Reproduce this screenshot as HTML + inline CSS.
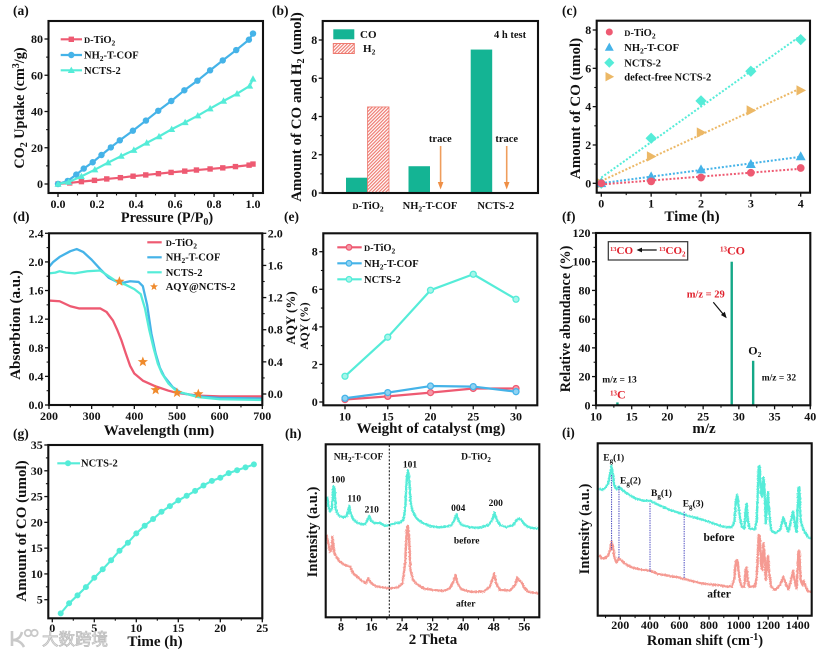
<!DOCTYPE html>
<html lang="en">
<head>
<meta charset="utf-8">
<title>Photocatalysis multi-panel figure</title>
<style>
html,body{margin:0;padding:0;background:#fff;}
svg{display:block;font-family:"Liberation Serif","Noto Serif CJK SC",serif;font-weight:bold;fill:#111;filter:blur(0.3px);}
.t15{font-size:15px;}
.leg{font-size:10.5px;}
.pl{font-size:13.5px;}
.red{fill:#e0202c;}
</style>
</head>
<body>
<svg id="fig" xmlns="http://www.w3.org/2000/svg" width="831" height="654" viewBox="0 0 831 654">
<defs>
<pattern id="hatch" patternUnits="userSpaceOnUse" width="2.4" height="2.4" patternTransform="rotate(-45)">
<rect width="2.4" height="2.4" fill="#fff"/><rect width="2.4" height="1.2" fill="#ee7a70"/>
</pattern>
<filter id="fuzz" x="-5%" y="-10%" width="110%" height="120%">
<feTurbulence type="fractalNoise" baseFrequency="0.8" numOctaves="2" seed="3"/>
<feDisplacementMap in="SourceGraphic" scale="2.4" xChannelSelector="R" yChannelSelector="G"/>
</filter>
</defs>
<rect width="831" height="654" fill="#fff"/>

<g class="pl">
<text x="13" y="15">(a)</text>
<text x="272" y="15">(b)</text>
<text x="562" y="15">(c)</text>
<text x="13" y="221">(d)</text>
<text x="284" y="221">(e)</text>
<text x="562" y="221">(f)</text>
<text x="13" y="438">(g)</text>
<text x="285" y="438">(h)</text>
<text x="562" y="437">(i)</text>
</g>

<g class="t15" text-anchor="middle">
<text transform="translate(24,108) rotate(-90)" font-size="14.2" style="font-size:14.2px">CO<tspan dy="3" font-size="10">2</tspan><tspan dy="-3"> Uptake (cm</tspan><tspan dy="-5" font-size="10">3</tspan><tspan dy="5">/g)</tspan></text>
<text x="167" y="222" style="font-size:14.3px">Pressure (P/P<tspan dy="3" font-size="10">0</tspan><tspan dy="-3">)</tspan></text>
<text transform="translate(301,107) rotate(-90)">Amount of CO and H<tspan dy="3" font-size="10">2</tspan><tspan dy="-3"> (umol)</tspan></text>
<text transform="translate(580,108.5) rotate(-90)">Amount of CO (umol)</text>
<text x="692" y="221">Time (h)</text>
<text transform="translate(20,325) rotate(-90)">Absorbtion (a.u.)</text>
<text x="159" y="435">Wavelength (nm)</text>
<text transform="translate(295,318) rotate(-90)" style="font-size:13px">AQY (%)</text>
<text transform="translate(308,326) rotate(-90)" style="font-size:11.5px">AQY (%)</text>
<text x="431" y="433">Weight of catalyst (mg)</text>
<text transform="translate(570,319) rotate(-90)" style="font-size:14.2px">Relative abundance (%)</text>
<text x="704" y="433">m/z</text>
<text transform="translate(26,531) rotate(-90)">Amount of CO (umol)</text>
<text x="155" y="646">Time (h)</text>
<text transform="translate(317,532) rotate(-90)" style="font-size:14.5px">Intensity (a.u.)</text>
<text x="433" y="644">2 Theta</text>
<text transform="translate(589,529) rotate(-90)" style="font-size:14.5px">Intensity (a.u.)</text>
<text x="705" y="645" style="font-size:14.5px">Roman shift (cm<tspan dy="-5" font-size="10">-1</tspan><tspan dy="5">)</tspan></text>
</g>

<g id="charts"></g>

<g class="leg">
<text x="84" y="43"><tspan font-size="8.5">D</tspan>-TiO<tspan dy="2.5" font-size="7.5">2</tspan></text>
<text x="84" y="58.5">NH<tspan dy="2.5" font-size="7.5">2</tspan><tspan dy="-2.5">-T-COF</tspan></text>
<text x="84" y="74">NCTS-2</text>
</g>

<g>
<rect x="333.3" y="29.3" width="21" height="10" fill="#14b494"/>
<rect x="333.3" y="43.5" width="21" height="10" fill="url(#hatch)" stroke="#ee7a70"/>
<text x="360" y="38" font-size="11">CO</text>
<text x="363" y="52" font-size="11">H<tspan dy="2.5" font-size="7.5">2</tspan></text>
<text x="494" y="38" class="leg">4 h test</text>
<text x="440.3" y="142" class="leg" text-anchor="middle">trace</text>
<text x="506.7" y="142" class="leg" text-anchor="middle">trace</text>
<line x1="440.6" y1="146" x2="440.6" y2="183" stroke="#ef9d5c" stroke-width="1.6"/>
<polygon points="437.8,182 443.4,182 440.6,189.5" fill="#ef8f45"/>
<line x1="506.7" y1="146" x2="506.7" y2="183" stroke="#ef9d5c" stroke-width="1.6"/>
<polygon points="503.9,182 509.5,182 506.7,189.5" fill="#ef8f45"/>
<g text-anchor="middle" class="leg">
<text x="368" y="209"><tspan font-size="8.5">D</tspan>-TiO<tspan dy="2.5" font-size="7.5">2</tspan></text>
<text x="430" y="209">NH<tspan dy="2.5" font-size="7.5">2</tspan><tspan dy="-2.5">-T-COF</tspan></text>
<text x="495.7" y="209">NCTS-2</text>
</g>
</g>

<g class="leg">
<text x="624.3" y="36"><tspan font-size="8.5">D</tspan>-TiO<tspan dy="2.5" font-size="7.5">2</tspan></text>
<text x="624.3" y="51">NH<tspan dy="2.5" font-size="7.5">2</tspan><tspan dy="-2.5">-T-COF</tspan></text>
<text x="624.3" y="66.5">NCTS-2</text>
<text x="624.3" y="80.5">defect-free NCTS-2</text>
</g>

<g class="leg">
<line x1="147.3" x2="161.7" y1="242.3" y2="242.3" stroke="#ee5a72" stroke-width="2.2"/>
<line x1="147.3" x2="161.7" y1="257.3" y2="257.3" stroke="#45b3e8" stroke-width="2.2"/>
<line x1="147.3" x2="161.7" y1="272.3" y2="272.3" stroke="#55ecd8" stroke-width="2.2"/>
<text x="165.7" y="246"><tspan font-size="8.5">D</tspan>-TiO<tspan dy="2.5" font-size="7.5">2</tspan></text>
<text x="165.7" y="260.5">NH<tspan dy="2.5" font-size="7.5">2</tspan><tspan dy="-2.5">-T-COF</tspan></text>
<text x="165.7" y="276">NCTS-2</text>
<text x="165.7" y="290">AQY@NCTS-2</text>
</g>

<g class="leg">
<text x="364" y="251"><tspan font-size="8.5">D</tspan>-TiO<tspan dy="2.5" font-size="7.5">2</tspan></text>
<text x="364" y="267">NH<tspan dy="2.5" font-size="7.5">2</tspan><tspan dy="-2.5">-T-COF</tspan></text>
<text x="364" y="283">NCTS-2</text>
</g>

<g>
<rect x="608.3" y="241.7" width="79.4" height="18.3" fill="none" stroke="#333" stroke-width="1.2"/>
<text x="610" y="254" font-size="11" class="red"><tspan dy="-3" font-size="6.5">13</tspan><tspan dy="3">CO</tspan></text>
<line x1="656.7" y1="250" x2="640" y2="250" stroke="#111" stroke-width="1.2"/>
<polygon points="636.5,250 642,247.6 642,252.4" fill="#111"/>
<text x="659" y="254" font-size="11" class="red"><tspan dy="-3" font-size="6.5">13</tspan><tspan dy="3">CO</tspan><tspan dy="2.5" font-size="7">2</tspan></text>
<text x="720" y="254.3" font-size="12" class="red"><tspan dy="-3" font-size="7">13</tspan><tspan dy="3">CO</tspan></text>
<text x="686.7" y="297.3" font-size="10.5" class="red">m/z = 29</text>
<line x1="713.3" y1="302.3" x2="724.5" y2="315.7" stroke="#111" stroke-width="1.2"/>
<polygon points="726.7,318.3 720.9,315 724.8,311.8" fill="#111"/>
<text x="748.3" y="354.3" font-size="12">O<tspan dy="2.5" font-size="7.5">2</tspan></text>
<text x="761.7" y="380.7" font-size="9.5">m/z = 32</text>
<text x="602.3" y="382.7" font-size="9.5">m/z = 13</text>
<text x="610" y="398.3" font-size="12" class="red"><tspan dy="-3" font-size="7">13</tspan><tspan dy="3">C</tspan></text>
</g>

<g>
<text x="81" y="466.5" class="leg">NCTS-2</text>
</g>

<g font-size="9.5" text-anchor="middle">
<text x="358.5" y="459.3">NH<tspan dy="2.5" font-size="7">2</tspan><tspan dy="-2.5">-T-COF</tspan></text>
<text x="476" y="459.3">D-TiO<tspan dy="2.5" font-size="7">2</tspan></text>
<line x1="389.3" y1="445" x2="389.3" y2="617" stroke="#111" stroke-width="1" stroke-dasharray="2,1.6"/>
<text x="410" y="467.3">101</text>
<text x="338" y="482.3">100</text>
<text x="354.3" y="501.7">110</text>
<text x="371.7" y="512.7">210</text>
<text x="458.3" y="511">004</text>
<text x="495.7" y="506">200</text>
<text x="466.7" y="543.3">before</text>
<text x="465.7" y="606.7">after</text>
</g>

<g>
<g font-size="9.5">
<text x="603.3" y="460.7">E<tspan dy="2.5" font-size="7">g</tspan><tspan dy="-2.5">(1)</tspan></text>
<text x="620" y="483.3">E<tspan dy="2.5" font-size="7">g</tspan><tspan dy="-2.5">(2)</tspan></text>
<text x="651" y="496">B<tspan dy="2.5" font-size="7">g</tspan><tspan dy="-2.5">(1)</tspan></text>
<text x="682.7" y="506.7">E<tspan dy="2.5" font-size="7">g</tspan><tspan dy="-2.5">(3)</tspan></text>
</g>
<text x="719" y="541" font-size="11.5" text-anchor="middle">before</text>
<text x="719" y="597.7" font-size="11.5" text-anchor="middle">after</text>
</g>

<g>
<path d="M12 631 v15 M12 640 c7 0 9 -4 10 -8 M12 640 c7 0 10 3 12 7" fill="none" stroke="#c9c9c9" stroke-width="2.6"/>
<circle cx="28" cy="633" r="3.2" fill="none" stroke="#c9c9c9" stroke-width="1.8"/>
<circle cx="34.5" cy="633" r="3.2" fill="none" stroke="#c9c9c9" stroke-width="1.8"/>
<text x="42" y="645" font-size="16.5" font-family="'Noto Sans CJK SC',sans-serif" font-weight="400" style="fill:#eee;stroke:#bdbdbd;stroke-width:.8">大数跨境</text>
</g>
</svg>

<script>
// ---------- Panel (a) ----------
const aTiO2P = [0,.06,.12,.187,.25,.32,.385,.45,.515,.58,.65,.71,.78,.845,.91,.98,1];
const aTiO2V = [0,.6,1.3,2,2.8,3.5,4.3,5,5.7,6.4,7.1,7.7,8.3,8.9,9.6,10.4,11];
const aCofP = [0,.05,.094,.132,.178,.223,.271,.317,.384,.451,.514,.581,.648,.715,.78,.845,.914,.979,1];
const aCofV = [0,1.7,5.2,8.5,12,16,20.2,24.1,29.4,35,40.4,45.8,51.7,57,62.7,68.2,73.9,79.6,83];
const aNctsP = [0,.055,.12,.189,.257,.324,.389,.455,.518,.583,.652,.717,.78,.849,.918,.983,1];
const aNctsV = [0,1.1,4.2,7.9,11.8,15.4,18.7,22.7,26.2,30.2,34,37.7,41.6,45.8,49.8,54.1,58];
const aXTicks = [0,.2,.4,.6,.8,1];
const aXLabels = ['0.0','0.2','0.4','0.6','0.8','1.0'];
const aXMinor = [.1,.3,.5,.7,.9];
const aYTicks = [0,20,40,60,80];
const aYMinor = [10,30,50,70];

// ---------- Panel (b) ----------
const bCO = [0.8,1.4,7.5];
const bH2 = [4.5,null,null];
const bYTicks = [0,2,4,6,8];
const bYMinor = [1,3,5,7];

// ---------- Panel (c) ----------
const cTime = [0,1,2,3,4];
const cTiO2 = [0,.1,.3,.55,.8];
const cCof = [0,.35,.72,1.0,1.4];
const cNcts = [0,2.35,4.3,5.85,7.5];
const cDefectFree = [0,1.4,2.65,3.8,4.85];
const cXTicks = [0,1,2,3,4];
const cXMinor = [.5,1.5,2.5,3.5];
const cYTicks = [0,2,4,6,8];
const cYMinor = [1,3,5,7];

// ---------- Panel (d) ----------
const dTiO2W = [200,225,250,270,300,320,335,350,360,370,380,390,400,420,450,480,500,550,600,700];
const dTiO2A = [1.46,1.45,1.38,1.35,1.35,1.35,1.3,1.18,1.05,.9,.72,.55,.44,.34,.26,.2,.17,.13,.12,.12];
const dCofW = [200,210,225,250,265,280,300,320,340,360,375,390,410,420,430,440,450,460,470,490,510,550,600,700];
const dCofA = [1.93,2.0,2.07,2.15,2.18,2.14,2.03,1.9,1.78,1.72,1.71,1.73,1.72,1.66,1.4,1.0,.72,.52,.4,.25,.17,.12,.1,.09];
const dNctsW = [200,215,225,240,260,290,320,340,360,380,400,415,425,435,445,455,465,480,500,550,600,700];
const dNctsA = [1.84,1.85,1.87,1.85,1.84,1.87,1.88,1.8,1.72,1.68,1.62,1.55,1.35,1.05,.8,.58,.44,.3,.19,.11,.08,.07];
const dAqyW = [365,420,450,500,550];
const dAqyV = [1.4,.4,.05,.015,0];
const dXTicks = [200,300,400,500,600,700];
const dXMinor = [250,350,450,550,650];
const dYTicks = [0,.4,.8,1.2,1.6,2,2.4];
const dYLabels = ['0.0','0.4','0.8','1.2','1.6','2.0','2.4'];
const dYMinor = [.2,.6,1,1.4,1.8,2.2];
const dRTicks = [0,.4,.8,1.2,1.6,2];
const dRLabels = ['0.0','0.4','0.8','1.2','1.6','2.0'];
const dRMinor = [.2,.6,1,1.4,1.8];

// ---------- Panel (e) ----------
const eWeight = [10,15,20,25,30];
const eTiO2 = [.13,.3,.5,.72,.72];
const eCof = [.2,.5,.85,.82,.55];
const eNcts = [1.37,3.45,5.95,6.8,5.47];
const eXTicks = [10,15,20,25,30];
const eXMinor = [12.5,17.5,22.5,27.5];
const eYTicks = [0,2,4,6,8];
const eYMinor = [1,3,5,7];

// ---------- Panel (f) ----------
const fMz = [13,29,32];
const fAbundance = [2,100,31];
const fXTicks = [10,15,20,25,30,35,40];
const fXMinor = [12.5,17.5,22.5,27.5,32.5,37.5];
const fYTicks = [0,20,40,60,80,100,120];
const fYMinor = [10,30,50,70,90,110];

// ---------- Panel (g) ----------
const gTime = [1,2,3,4,5,6,7,8,9,10,11,12,13,14,15,16,17,18,19,20,21,22,23,24];
const gCO = [2.35,4.3,5.85,7.45,9.25,10.9,12.65,14.5,16.05,17.85,19.35,20.65,22.05,23.15,24.25,25.15,26.1,27.15,28.05,28.65,29.55,30.1,30.65,31.25];
const gXTicks = [0,5,10,15,20,25];
const gXMinor = [2.5,7.5,12.5,17.5,22.5];
const gYTicks = [5,10,15,20,25,30,35];
const gYMinor = [7.5,12.5,17.5,22.5,27.5,32.5];

// ---------- Panel (h) ----------
const hBeforeTheta = [4.4,4.7,5.1,5.6,6.0,6.3,6.6,7.0,7.7,8.6,9.5,9.9,10.2,10.5,11.2,12.5,14.3,14.9,15.4,15.9,16.9,18.2,19.5,20.8,22.1,23.4,24.3,24.8,25.2,25.5,25.9,26.2,26.8,27.4,28.2,29.6,31.3,33.5,35.7,37.0,37.7,38.2,38.7,39.6,41.8,44.4,46.6,47.6,48.2,48.8,49.6,51.4,53.1,54.0,54.7,55.3,56.2,57.5,59.7];
const hBeforeI = [362,332,317,327,392,387,327,312,304,300,304,317,334,312,294,282,279,290,304,290,282,284,274,277,282,284,292,322,412,440,412,347,317,304,292,282,274,270,272,277,292,309,292,277,270,269,277,292,314,292,277,270,277,292,297,290,277,269,266];
const hAfterTheta = [4.2,4.7,5.1,5.6,5.8,6.2,6.7,7.7,9.0,10.4,11.2,13,14.5,15.2,15.8,16.9,18.6,20.8,23,24.1,24.8,25.2,25.5,25.8,26.2,26.8,27.8,29.6,32.2,34.8,36.5,37.4,38,38.5,39.6,42.2,45.3,47,47.7,48.1,48.6,49.6,52.2,53.6,54.2,54.7,55.2,55.9,57,59.7];
const hAfterI = [247,222,197,207,242,197,182,167,157,152,132,114,102,117,104,94,90,87,90,102,162,262,274,242,142,114,100,87,82,79,87,107,127,102,84,76,77,92,117,132,102,82,80,97,120,110,107,90,77,72];
const hXTicks = [8,16,24,32,40,48,56];
const hXMinor = [12,20,28,36,44,52];

// ---------- Panel (i) ----------
const iShift = [58,74,96,119,132,141,150,159,175,191,209,243,299,356,401,457,525,593,660,728,796,863,908,954,972,981,990,999,1010,1021,1039,1048,1055,1062,1073,1111,1123,1136,1143,1152,1159,1168,1175,1184,1190,1199,1208,1220,1247,1281,1303,1319,1337,1355,1369,1382,1393,1405,1411,1420,1432,1441,1454,1472,1490];
const iBefore = [382,377,382,397,427,449,427,392,379,387,379,367,352,345,345,332,319,309,299,292,282,272,266,265,282,342,362,332,295,267,262,317,335,287,262,259,287,447,449,367,357,415,387,277,317,369,307,257,247,257,295,272,252,287,312,272,252,382,385,287,267,257,247,235,232];
const iAfter = [182,172,172,182,197,222,207,177,159,172,165,152,142,137,135,125,120,115,107,99,94,92,88,87,112,162,167,137,102,87,87,137,145,107,87,87,117,242,239,157,137,217,187,107,147,179,127,87,77,92,117,97,79,107,135,97,82,192,195,107,92,105,87,72,72];
const iModeShift = [141,191,401,632];
const iModeTop = [422,387,337,312];
const iModeBottom = [197,172,132,112];
const iXTicks = [200,400,600,800,1000,1200,1400];
const iXMinor = [100,300,500,700,900,1100,1300];

// ---------- Helpers ----------
const NS = 'http://www.w3.org/2000/svg';
const root = document.getElementById('charts');
const RED = '#ee5a72', BLUE = '#45b3e8', CYAN = '#55ecd8', TEAL = '#14b494', ORANGE = '#ef8a2c', AMBER = '#ecb866';

function add(parent, tag, attrs, txt) {
  const e = document.createElementNS(NS, tag);
  for (const k in attrs) e.setAttribute(k, attrs[k]);
  if (txt !== undefined) e.textContent = txt;
  parent.appendChild(e);
  return e;
}
function linear(d0, r0, d1, r1) {
  return v => r0 + (v - d0) * (r1 - r0) / (d1 - d0);
}
function panel(name) {
  const g = add(root, 'g', {});
  
  
  return g;
}
function frame(g, x0, y0, x1, y1) {
  const r = add(g, 'rect', {x:x0, y:y0, width:x1-x0, height:y1-y0, fill:'none', stroke:'#111', 'stroke-width':2.1});
  
  
}
function xAxis(g, sx, yBase, ticks, labels, minor, labelDy) {
  ticks.forEach((t, i) => {
    const l = add(g, 'line', {x1:sx(t), x2:sx(t), y1:yBase, y2:yBase+4, stroke:'#111', 'stroke-width':1.3});
    
    
    const s = add(g, 'text', {x:sx(t), y:yBase+labelDy, 'text-anchor':'middle', 'font-size':12}, labels ? labels[i] : String(t));
    
    
  });
  (minor || []).forEach(t => {
    const l = add(g, 'line', {x1:sx(t), x2:sx(t), y1:yBase, y2:yBase+2.4, stroke:'#111', 'stroke-width':1.1});
    
    
  });
}
function yAxis(g, sy, xBase, ticks, labels, minor, side) {
  const dir = side === 'right' ? 1 : -1;
  ticks.forEach((t, i) => {
    const l = add(g, 'line', {x1:xBase, x2:xBase+dir*4, y1:sy(t), y2:sy(t), stroke:'#111', 'stroke-width':1.3});
    
    
    const s = add(g, 'text', {x:xBase+dir*5.5, y:sy(t)+4, 'text-anchor':side === 'right' ? 'start' : 'end', 'font-size':12}, labels ? labels[i] : String(t));
    
    
  });
  (minor || []).forEach(t => {
    const l = add(g, 'line', {x1:xBase, x2:xBase+dir*2.4, y1:sy(t), y2:sy(t), stroke:'#111', 'stroke-width':1.1});
    
    
  });
}
function pathD(xs, ys, sx, sy) {
  return xs.map((x, i) => (i ? 'L' : 'M') + sx(x).toFixed(2) + ' ' + sy(ys[i]).toFixed(2)).join(' ');
}
function linePath(g, xs, ys, sx, sy, color, w) {
  return add(g, 'path', {d:pathD(xs, ys, sx, sy), fill:'none', stroke:color, 'stroke-width':w, 'stroke-linejoin':'round'});
}
function marker(g, shape, x, y, s, fill, stroke) {
  if (shape === 'circle') return add(g, 'circle', {cx:x, cy:y, r:s, fill:fill, stroke:stroke || 'none', 'stroke-width':1.3});
  let pts;
  if (shape === 'square') pts = [[-s,-s],[s,-s],[s,s],[-s,s]];
  if (shape === 'triangle') pts = [[0,-s*1.15],[s*1.1,s*.85],[-s*1.1,s*.85]];
  if (shape === 'diamond') pts = [[0,-s*1.25],[s*1.25,0],[0,s*1.25],[-s*1.25,0]];
  if (shape === 'right') pts = [[-s*.9,-s*1.1],[s*1.15,0],[-s*.9,s*1.1]];
  if (shape === 'star') {
    pts = [];
    for (let k = 0; k < 10; k++) {
      const r = k % 2 ? s * .42 : s;
      const a = -Math.PI / 2 + k * Math.PI / 5;
      pts.push([r * Math.cos(a), r * Math.sin(a)]);
    }
  }
  return add(g, 'polygon', {points:pts.map(p => (x+p[0]).toFixed(2)+','+(y+p[1]).toFixed(2)).join(' '), fill:fill});
}
function fit(xs, ys) {
  const n = xs.length;
  const mx = xs.reduce((a, b) => a + b, 0) / n;
  const my = ys.reduce((a, b) => a + b, 0) / n;
  let num = 0, den = 0;
  xs.forEach((x, i) => { num += (x - mx) * (ys[i] - my); den += (x - mx) * (x - mx); });
  const m = num / den;
  return x => my + m * (x - mx);
}

// ---------- Draw (a) ----------
(function () {
  const g = panel('panel-a-co2-uptake');
  const sx = linear(0, 58, 1, 253);
  const sy = linear(0, 184, 80, 39);
  const series = [
    {n:'dtio2', xs:aTiO2P, ys:aTiO2V, c:RED, m:'square', s:2.7},
    {n:'nh2-t-cof', xs:aCofP, ys:aCofV, c:BLUE, m:'circle', s:3.2},
    {n:'ncts-2', xs:aNctsP, ys:aNctsV, c:CYAN, m:'triangle', s:3.2}
  ];
  series.forEach(o => {
    const p = linePath(g, o.xs, o.ys, sx, sy, o.c, 2.2);
    
    
    o.xs.forEach((x, i) => {
      const m = marker(g, o.m, sx(x), sy(o.ys[i]), o.s, o.c);
      
      
    });
  });
  frame(g, 48.5, 21, 263, 193);
  xAxis(g, sx, 193, aXTicks, aXLabels, aXMinor, 15);
  yAxis(g, sy, 48.5, aYTicks, null, aYMinor);
  const legY = [39.3, 55, 70.3];
  series.forEach((o, i) => {
    const l = add(g, 'line', {x1:60.7, x2:82, y1:legY[i], y2:legY[i], stroke:o.c, 'stroke-width':2.2});
    
    
    const m = marker(g, o.m, 71.3, legY[i], o.s, o.c);
    
    
  });
})();

// ---------- Draw (b) ----------
(function () {
  const g = panel('panel-b-co-h2-bars');
  const sy = linear(0, 193, 8, 40);
  const barLeft = [346, 408.5, 470.7];
  bCO.forEach((v, i) => {
    const r = add(g, 'rect', {x:barLeft[i], y:sy(v), width:21.5, height:sy(0)-sy(v), fill:TEAL});
    
    
  });
  bH2.forEach((v, i) => {
    if (v === null) return;
    const r = add(g, 'rect', {x:barLeft[i]+21.5, y:sy(v), width:21.5, height:sy(0)-sy(v), fill:'url(#hatch)', stroke:'#ee7a70', 'stroke-width':.8});
    
    
  });
  frame(g, 322.7, 21, 538, 193);
  yAxis(g, sy, 322.7, bYTicks, null, bYMinor);
})();

// ---------- Draw (c) ----------
(function () {
  const g = panel('panel-c-co-vs-time');
  const sx = linear(0, 601.3, 4, 800.7);
  const sy = linear(0, 183.3, 8, 30);
  const series = [
    {n:'defect-free', ys:cDefectFree, c:AMBER, m:'right', s:4.7, ly:76.7},
    {n:'ncts-2', ys:cNcts, c:CYAN, m:'diamond', s:4.5, ly:62.7},
    {n:'nh2-t-cof', ys:cCof, c:BLUE, m:'triangle', s:4.5, ly:47.3},
    {n:'dtio2', ys:cTiO2, c:RED, m:'circle', s:3.9, ly:32}
  ];
  series.forEach(o => {
    const f = fit(cTime, o.ys);
    const l = add(g, 'line', {x1:sx(0), x2:sx(4), y1:sy(f(0)), y2:sy(f(4)), stroke:o.c, 'stroke-width':2, 'stroke-dasharray':'2,1.8'});
    
    
    cTime.forEach((t, i) => {
      const m = marker(g, o.m, sx(t), sy(o.ys[i]), o.s, o.c);
      
      
    });
    const lm = marker(g, o.m, 609.3, o.ly, o.s * .9, o.c);
    
    
  });
  frame(g, 596.7, 20.7, 810, 192.7);
  xAxis(g, sx, 192.7, cXTicks, null, cXMinor, 15);
  yAxis(g, sy, 596.7, cYTicks, null, cYMinor);
})();

// ---------- Draw (d) ----------
(function () {
  const g = panel('panel-d-absorption');
  const sx = linear(200, 49, 700, 262.3);
  const sy = linear(0, 405, 2.4, 233.3);
  const sr = linear(0, 394, 2, 233.3);
  const sets = [
    {n:'dtio2', xs:dTiO2W, ys:dTiO2A, c:RED},
    {n:'nh2-t-cof', xs:dCofW, ys:dCofA, c:BLUE},
    {n:'ncts-2', xs:dNctsW, ys:dNctsA, c:CYAN}
  ];
  sets.forEach(o => {
    const p = linePath(g, o.xs, o.ys, sx, sy, o.c, 2.3);
    
    
  });
  dAqyW.forEach((w, i) => {
    const m = marker(g, 'star', sx(w), sr(dAqyV[i]), 5.4, ORANGE);
    
    
  });
  const ls = marker(g, 'star', 154, 286.7, 4.2, ORANGE);
  
  
  frame(g, 49, 233.3, 262.3, 405);
  xAxis(g, sx, 405, dXTicks, null, dXMinor, 15);
  yAxis(g, sy, 49, dYTicks, dYLabels, dYMinor);
  yAxis(g, sr, 262.3, dRTicks, dRLabels, dRMinor, 'right');
})();

// ---------- Draw (e) ----------
(function () {
  const g = panel('panel-e-aqy-vs-weight');
  const sx = linear(10, 345, 30, 516);
  const sy = linear(0, 402, 8, 251.7);
  const series = [
    {n:'dtio2', ys:eTiO2, c:RED, f:'#f59aa8', ly:247.3},
    {n:'nh2-t-cof', ys:eCof, c:BLUE, f:'#8fd3f3', ly:263.3},
    {n:'ncts-2', ys:eNcts, c:CYAN, f:'#a5f5ea', ly:279.3}
  ];
  series.forEach(o => {
    const p = linePath(g, eWeight, o.ys, sx, sy, o.c, 2.2);
    
    
    eWeight.forEach((w, i) => {
      const m = marker(g, 'circle', sx(w), sy(o.ys[i]), 3, o.f, o.c);
      
      
    });
    const l = add(g, 'line', {x1:337.3, x2:361.7, y1:o.ly, y2:o.ly, stroke:o.c, 'stroke-width':2.2});
    
    
    const lm = marker(g, 'circle', 349, o.ly, 2.8, o.f, o.c);
    
    
  });
  frame(g, 323.3, 233.3, 537.3, 405.3);
  xAxis(g, sx, 405.3, eXTicks, null, eXMinor, 15);
  yAxis(g, sy, 323.3, eYTicks, null, eYMinor);
})();

// ---------- Draw (f) ----------
(function () {
  const g = panel('panel-f-mass-spectrum');
  const sx = linear(10, 596, 40, 810.3);
  const sy = linear(0, 405.3, 120, 233);
  fMz.forEach((m, i) => {
    const r = add(g, 'rect', {x:sx(m)-1.2, y:sy(fAbundance[i]), width:2.4, height:sy(0)-sy(fAbundance[i]), fill:'#14a887'});
    
    
  });
  frame(g, 596, 233, 810.3, 405.3);
  xAxis(g, sx, 405.3, fXTicks, null, fXMinor, 15);
  yAxis(g, sy, 596, fYTicks, null, fYMinor);
})();

// ---------- Draw (g) ----------
(function () {
  const g = panel('panel-g-long-term-co');
  const sx = linear(0, 52.3, 25, 262.3);
  const sy = linear(5, 599.7, 35, 445);
  const p = linePath(g, gTime, gCO, sx, sy, CYAN, 2.1);
  
  
  gTime.forEach((t, i) => {
    const m = marker(g, 'circle', sx(t), sy(gCO[i]), 3, CYAN);
    
    
  });
  const l = add(g, 'line', {x1:57.3, x2:80, y1:463.3, y2:463.3, stroke:CYAN, 'stroke-width':2.1});
  
  
  const lm = marker(g, 'circle', 68, 463.3, 3, CYAN);
  
  
  frame(g, 48.3, 445, 262.3, 618.3);
  xAxis(g, sx, 618.3, gXTicks, null, gXMinor, 13.5);
  yAxis(g, sy, 48.3, gYTicks, null, gYMinor);
})();

// ---------- Draw (h) ----------
(function () {
  const g = panel('panel-h-xrd');
  const sx = linear(8, 341, 56, 524.3);
  const sy = linear(0, 617.3, 519, 444.3);
  const a = linePath(g, hAfterTheta, hAfterI, sx, sy, '#f59a92', 2.4);
  a.setAttribute('filter', 'url(#fuzz)');
  
  
  const b = linePath(g, hBeforeTheta, hBeforeI, sx, sy, CYAN, 2.4);
  b.setAttribute('filter', 'url(#fuzz)');
  
  
  frame(g, 325.7, 444.3, 539.3, 617.3);
  xAxis(g, sx, 617.3, hXTicks, null, hXMinor, 13);
})();

// ---------- Draw (i) ----------
(function () {
  const g = panel('panel-i-raman');
  const sx = linear(200, 620.3, 1400, 797.7);
  const sy = linear(0, 615.7, 517, 443.3);
  const a = linePath(g, iShift, iAfter, sx, sy, '#f59a92', 2.4);
  a.setAttribute('filter', 'url(#fuzz)');
  
  
  const b = linePath(g, iShift, iBefore, sx, sy, CYAN, 2.4);
  b.setAttribute('filter', 'url(#fuzz)');
  
  
  iModeShift.forEach((s, i) => {
    const l = add(g, 'line', {x1:sx(s), x2:sx(s), y1:sy(iModeTop[i]), y2:sy(iModeBottom[i]), stroke:'#4a4ac0', 'stroke-width':1, 'stroke-dasharray':'1.4,1'});
    
    
  });
  frame(g, 597.7, 443.3, 811.7, 615.7);
  xAxis(g, sx, 615.7, iXTicks, null, iXMinor, 13.5);
})();
</script>
</body>
</html>
